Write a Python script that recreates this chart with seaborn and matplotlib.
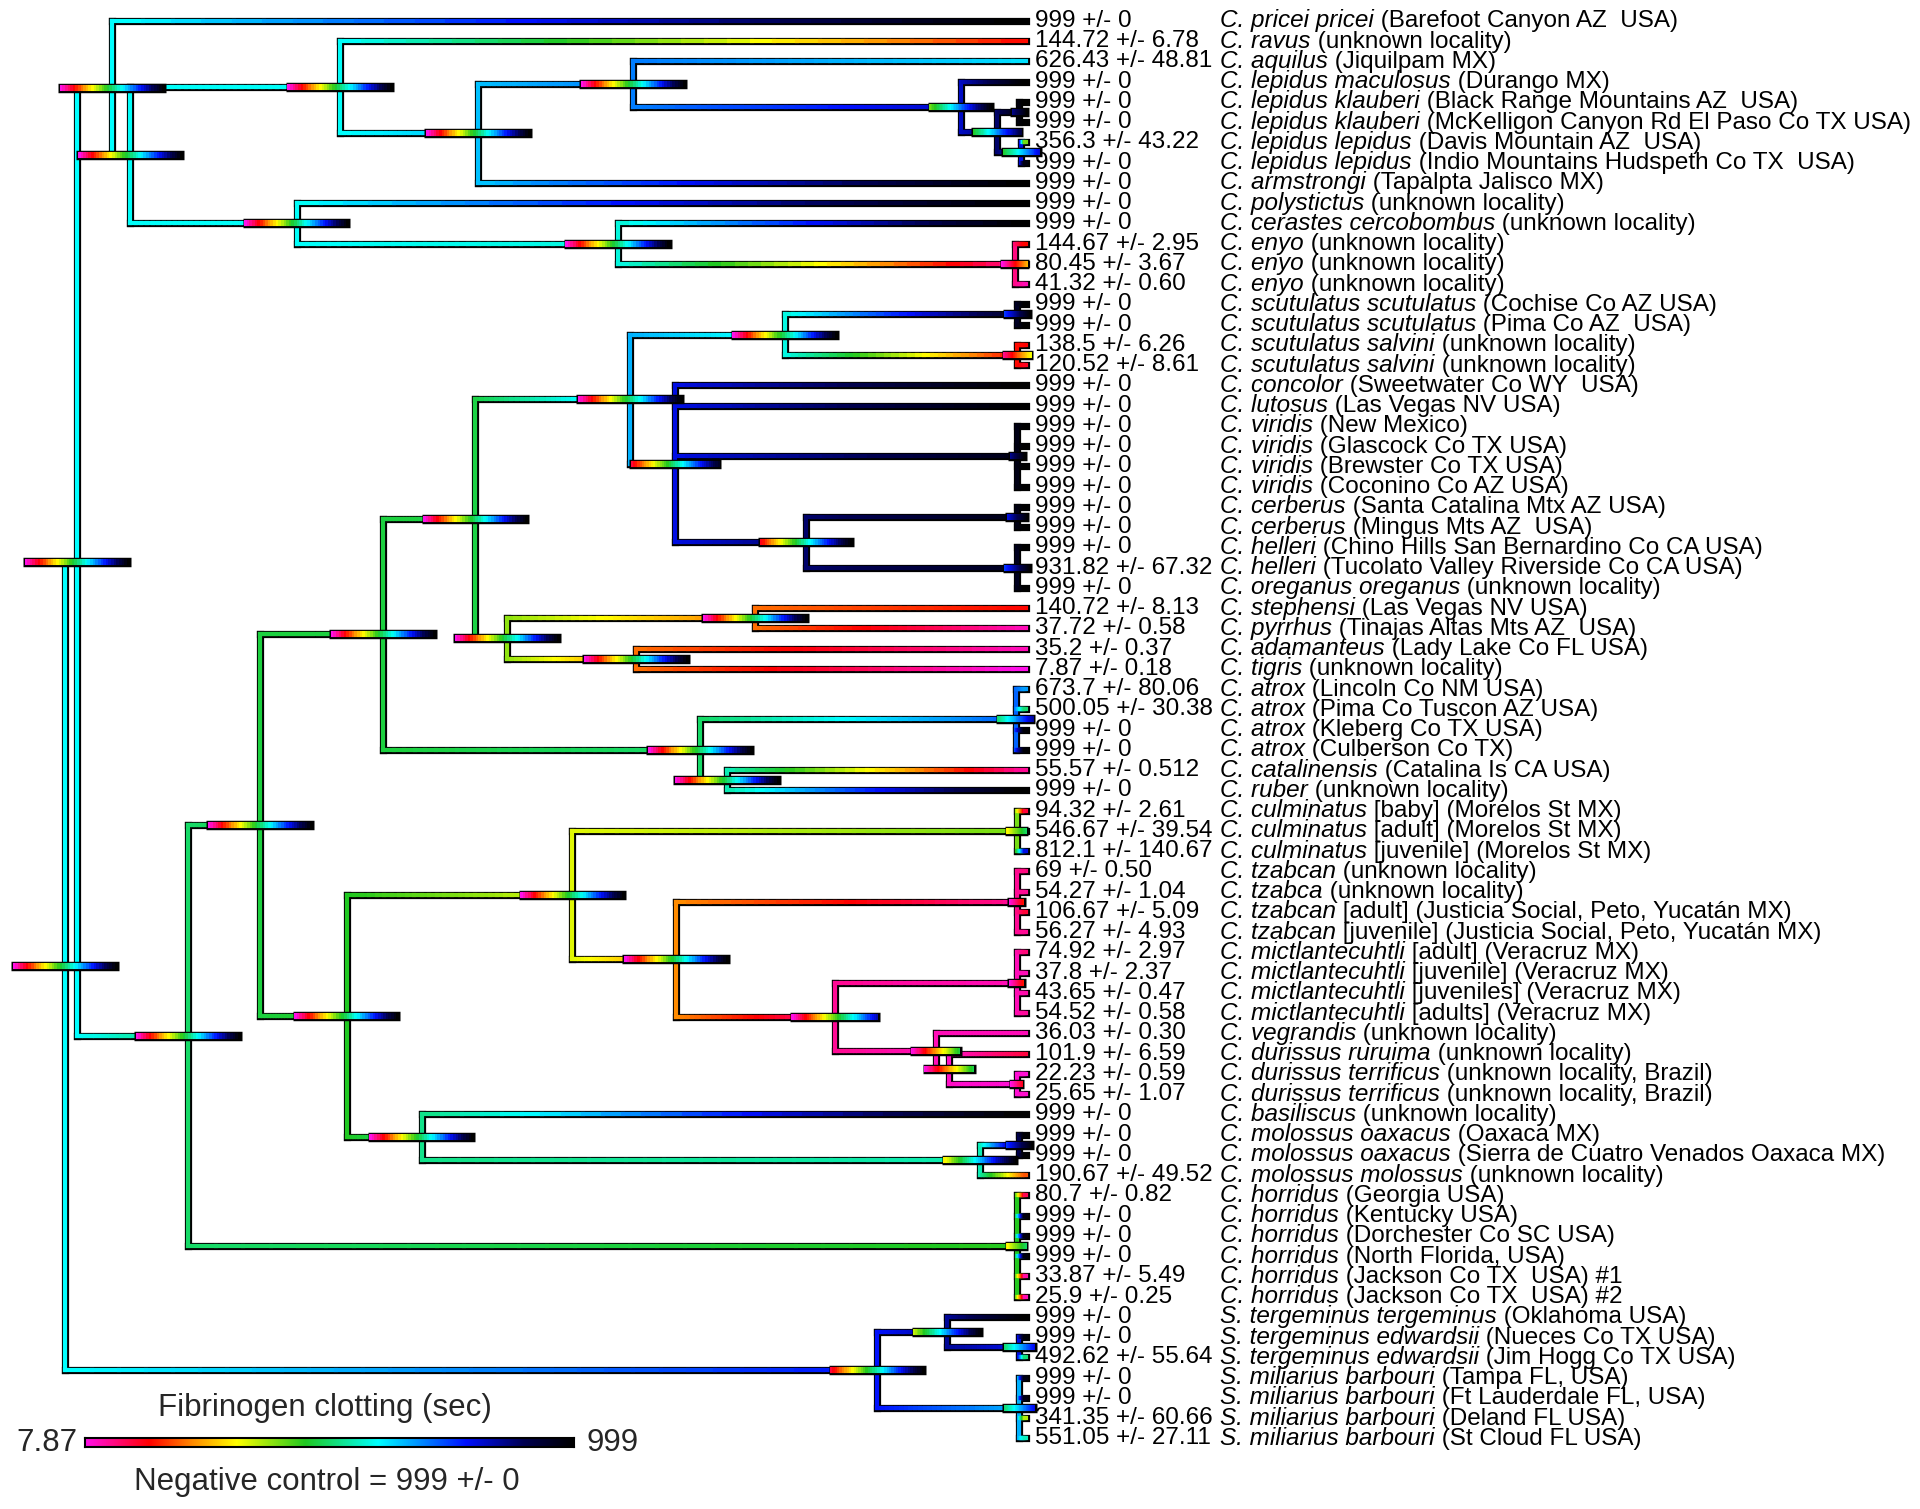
"""
Ancestral state reconstruction of fibrinogen clotting time mapped on the
rattlesnake tree. Branches are coloured by the reconstructed value, node bars
show the 95% interval of each reconstruction.
"""
import numpy as np
import matplotlib
matplotlib.use("Agg")
import matplotlib.pyplot as plt
import seaborn as sns
from matplotlib.collections import LineCollection
from matplotlib.colors import LinearSegmentedColormap, Normalize

# ---- tips, top to bottom ----
species = [
    "C. pricei pricei", "C. ravus", "C. aquilus", "C. lepidus maculosus",
    "C. lepidus klauberi", "C. lepidus klauberi", "C. lepidus lepidus",
    "C. lepidus lepidus", "C. armstrongi", "C. polystictus",
    "C. cerastes cercobombus", "C. enyo", "C. enyo", "C. enyo",
    "C. scutulatus scutulatus", "C. scutulatus scutulatus",
    "C. scutulatus salvini", "C. scutulatus salvini", "C. concolor",
    "C. lutosus", "C. viridis", "C. viridis", "C. viridis", "C. viridis",
    "C. cerberus", "C. cerberus", "C. helleri", "C. helleri",
    "C. oreganus oreganus", "C. stephensi", "C. pyrrhus", "C. adamanteus",
    "C. tigris", "C. atrox", "C. atrox", "C. atrox", "C. atrox",
    "C. catalinensis", "C. ruber", "C. culminatus", "C. culminatus",
    "C. culminatus", "C. tzabcan", "C. tzabca", "C. tzabcan", "C. tzabcan",
    "C. mictlantecuhtli", "C. mictlantecuhtli", "C. mictlantecuhtli",
    "C. mictlantecuhtli", "C. vegrandis", "C. durissus ruruima",
    "C. durissus terrificus", "C. durissus terrificus", "C. basiliscus",
    "C. molossus oaxacus", "C. molossus oaxacus", "C. molossus molossus",
    "C. horridus", "C. horridus", "C. horridus", "C. horridus",
    "C. horridus", "C. horridus", "S. tergeminus tergeminus",
    "S. tergeminus edwardsii", "S. tergeminus edwardsii",
    "S. miliarius barbouri", "S. miliarius barbouri",
    "S. miliarius barbouri", "S. miliarius barbouri",
]
locality = [
    "(Barefoot Canyon AZ  USA)", "(unknown locality)", "(Jiquilpam MX)",
    "(Durango MX)", "(Black Range Mountains AZ  USA)",
    "(McKelligon Canyon Rd El Paso Co TX USA)", "(Davis Mountain AZ  USA)",
    "(Indio Mountains Hudspeth Co TX  USA)", "(Tapalpta Jalisco MX)",
    "(unknown locality)", "(unknown locality)", "(unknown locality)",
    "(unknown locality)", "(unknown locality)", "(Cochise Co AZ USA)",
    "(Pima Co AZ  USA)", "(unknown locality)", "(unknown locality)",
    "(Sweetwater Co WY  USA)", "(Las Vegas NV USA)", "(New Mexico)",
    "(Glascock Co TX USA)", "(Brewster Co TX USA)", "(Coconino Co AZ USA)",
    "(Santa Catalina Mtx AZ USA)", "(Mingus Mts AZ  USA)",
    "(Chino Hills San Bernardino Co CA USA)",
    "(Tucolato Valley Riverside Co CA USA)", "(unknown locality)",
    "(Las Vegas NV USA)", "(Tinajas Altas Mts AZ  USA)",
    "(Lady Lake Co FL USA)", "(unknown locality)", "(Lincoln Co NM USA)",
    "(Pima Co Tuscon AZ USA)", "(Kleberg Co TX USA)", "(Culberson Co TX)",
    "(Catalina Is CA USA)", "(unknown locality)", "[baby] (Morelos St MX)",
    "[adult] (Morelos St MX)", "[juvenile] (Morelos St MX)",
    "(unknown locality)", "(unknown locality)",
    "[adult] (Justicia Social, Peto, Yucatán MX)",
    "[juvenile] (Justicia Social, Peto, Yucatán MX)",
    "[adult] (Veracruz MX)", "[juvenile] (Veracruz MX)",
    "[juveniles] (Veracruz MX)", "[adults] (Veracruz MX)",
    "(unknown locality)", "(unknown locality)",
    "(unknown locality, Brazil)", "(unknown locality, Brazil)",
    "(unknown locality)", "(Oaxaca MX)",
    "(Sierra de Cuatro Venados Oaxaca MX)", "(unknown locality)",
    "(Georgia USA)", "(Kentucky USA)", "(Dorchester Co SC USA)",
    "(North Florida, USA)", "(Jackson Co TX  USA) #1",
    "(Jackson Co TX  USA) #2", "(Oklahoma USA)", "(Nueces Co TX USA)",
    "(Jim Hogg Co TX USA)", "(Tampa FL, USA)", "(Ft Lauderdale FL, USA)",
    "(Deland FL USA)", "(St Cloud FL USA)",
]
clot_mean = [
    "999", "144.72", "626.43", "999", "999", "999", "356.3", "999", "999",
    "999", "999", "144.67", "80.45", "41.32", "999", "999", "138.5",
    "120.52", "999", "999", "999", "999", "999", "999", "999", "999", "999",
    "931.82", "999", "140.72", "37.72", "35.2", "7.87", "673.7", "500.05",
    "999", "999", "55.57", "999", "94.32", "546.67", "812.1", "69", "54.27",
    "106.67", "56.27", "74.92", "37.8", "43.65", "54.52", "36.03", "101.9",
    "22.23", "25.65", "999", "999", "999", "190.67", "80.7", "999", "999",
    "999", "33.87", "25.9", "999", "999", "492.62", "999", "999", "341.35",
    "551.05",
]
clot_sd = [
    "0", "6.78", "48.81", "0", "0", "0", "43.22", "0", "0", "0", "0",
    "2.95", "3.67", "0.60", "0", "0", "6.26", "8.61", "0", "0", "0", "0",
    "0", "0", "0", "0", "0", "67.32", "0", "8.13", "0.58", "0.37", "0.18",
    "80.06", "30.38", "0", "0", "0.512", "0", "2.61", "39.54", "140.67",
    "0.50", "1.04", "5.09", "4.93", "2.97", "2.37", "0.47", "0.58", "0.30",
    "6.59", "0.59", "1.07", "0", "0", "0", "49.52", "0.82", "0", "0", "0",
    "5.49", "0.25", "0", "0", "55.64", "0", "0", "60.66", "27.11",
]

# ---- internal nodes ----
# children are tip indices or node ids; depth: root 0, tips 1
# state: reconstructed clotting time (sec); ci: 95% interval (sec)
FULL = (7.87, 999)
node_id = ["R", "N2", "A", "B", "C", "E", "F", "G", "H", "I", "J", "D", "K",
           "L", "Crot", "P", "R1", "S1", "T", "Sc", "ScA", "ScB", "V", "Vir",
           "W", "Cer", "Hel", "U", "X", "Y", "Z", "Atr", "Z2", "Q", "Q1",
           "Cul", "Q2", "Tza", "Q3", "Mic", "Q4a", "Q4b", "Ter", "Q5", "Mol",
           "Oax", "Hd", "S", "St", "Se", "Sm"]
node_children = [
    ["N2", "S"], ["A", "Crot"], [0, "B"], ["C", "D"], [1, "E"], ["F", 8],
    [2, "G"], [3, "H"], ["I", "J"], [4, 5], [6, 7], [9, "K"], [10, "L"],
    [11, 12, 13], ["P", "Hd"], ["R1", "Q"], ["S1", "Z"], ["T", "U"],
    ["Sc", "V"], ["ScA", "ScB"], [14, 15], [16, 17], [18, 19, "Vir", "W"],
    [20, 21, 22, 23], ["Cer", "Hel"], [24, 25], [26, 27, 28], ["X", "Y"],
    [29, 30], [31, 32], ["Atr", "Z2"], [33, 34, 35, 36], [37, 38],
    ["Q1", "Q5"], ["Cul", "Q2"], [39, 40, 41], ["Tza", "Q3"],
    [42, 43, 44, 45], ["Mic", "Q4a"], [46, 47, 48, 49], [50, "Q4b"],
    [51, "Ter"], [52, 53], [54, "Mol"], ["Oax", 57], [55, 56],
    [58, 59, 60, 61, 62, 63], ["St", "Sm"], [64, "Se"], [65, 66],
    [67, 68, 69, 70],
]
node_depth = [0.0, 0.0125, 0.049, 0.068, 0.286, 0.430, 0.591, 0.932, 0.970,
              0.993, 0.995, 0.241, 0.575, 0.988, 0.128, 0.203, 0.331, 0.427,
              0.588, 0.749, 0.991, 0.991, 0.635, 0.991, 0.771, 0.991, 0.991,
              0.460, 0.718, 0.594, 0.661, 0.989, 0.689, 0.293, 0.528, 0.990,
              0.636, 0.990, 0.801, 0.990, 0.906, 0.920, 0.990, 0.371, 0.952,
              0.993, 0.990, 0.845, 0.918, 0.993, 0.993]
node_state = [602, 602, 602, 600, 600, 650, 700, 820, 880, 980, 800, 600,
              580, 67, 503, 474, 474, 480, 660, 583, 950, 146, 800, 970, 880,
              970, 960, 384, 206, 206, 503, 720, 550, 454, 335, 400, 226, 57,
              57, 38, 38, 28, 22, 523, 550, 900, 450, 780, 850, 800, 660]
node_ci = [FULL, FULL, FULL, FULL, FULL, FULL, FULL, (404, 999), (454, 920),
           (850, 999), (454, 810), FULL, FULL, (7.87, 256), FULL, FULL, FULL,
           FULL, FULL, FULL, (751, 999), (57, 325), (107, 950), (850, 999),
           (127, 999), (800, 999), (751, 999), FULL, FULL, FULL, FULL,
           (503, 850), FULL, FULL, FULL, (305, 503), FULL, (7.87, 157),
           (7.87, 830), (7.87, 157), (7.87, 474), (7.87, 484), (7.87, 127),
           FULL, (305, 999), (751, 999), (305, 503), (107, 999), (355, 999),
           (503, 800), (503, 800)]

# ---- style ----
sns.set_theme(style="white")
plt.rcParams["font.family"] = ["Liberation Sans", "DejaVu Sans"]

cmap = LinearSegmentedColormap.from_list("clot", [
    (0.00, "#ff10e8"), (0.13, "#ff0000"), (0.22, "#ff8c00"),
    (0.31, "#ffff00"), (0.45, "#20c820"), (0.60, "#00ffff"),
    (0.78, "#0010ff"), (0.90, "#000050"), (1.00, "#000000")])
norm = Normalize(7.87, 999)

children = dict(zip(node_id, node_children))
depth = dict(zip(node_id, node_depth))
state = dict(zip(node_id, node_state))
ci = dict(zip(node_id, node_ci))
tip_val = [float(v) for v in clot_mean]

ypos = {}


def place(n):
    if isinstance(n, int):
        return float(n)
    ys = [place(c) for c in children[n]]
    ypos[n] = (ys[0] + ys[-1]) / 2
    return ypos[n]


place("R")


def coord(n):
    if isinstance(n, int):
        return 1.0, float(n), tip_val[n]
    return depth[n], ypos[n], state[n]


fig = plt.figure(figsize=(19.2, 15.09), dpi=100)
ax = fig.add_axes([0, 0, 1, 1])
ax.set_xlim(-0.0676, 1.930)
ax.set_ylim(73.49, -1.027)
ax.set_axis_off()

out_segs, col_segs, col_vals = [], [], []
for n in node_id:
    px, py, pv = coord(n)
    ys = [coord(c)[1] for c in children[n]]
    out_segs.append([(px, min(ys)), (px, max(ys))])
    col_segs.append([(px, min(ys)), (px, max(ys))])
    col_vals.append(pv)
    for c in children[n]:
        cx, cy, cv = coord(c)
        out_segs.append([(px, cy), (cx, cy)])
        xs = np.linspace(px, cx, 31)
        vs = np.linspace(pv, cv, 30)
        for k in range(30):
            col_segs.append([(xs[k], cy), (xs[k + 1], cy)])
            col_vals.append(vs[k])

ax.add_collection(LineCollection(out_segs, colors="black", linewidths=5.2,
                                 capstyle="projecting", zorder=1))
ax.add_collection(LineCollection(col_segs, colors=cmap(norm(col_vals)),
                                 linewidths=3.0, capstyle="projecting",
                                 zorder=2))

# node interval bars
bar_scale = 0.109 / (999 - 7.87)
pad = 1.5 / 961
bar_out, bar_segs, bar_vals = [], [], []
for n in node_id:
    lo, hi = ci[n]
    w = (hi - lo) * bar_scale
    x0 = depth[n] - w / 2
    y = ypos[n]
    bar_out.append([(x0 - pad, y), (x0 + w + pad, y)])
    xs = np.linspace(x0, x0 + w, 41)
    vs = np.linspace(lo, hi, 40)
    for k in range(40):
        bar_segs.append([(xs[k], y), (xs[k + 1], y)])
        bar_vals.append(vs[k])
ax.add_collection(LineCollection(bar_out, colors="black", linewidths=6.8,
                                 capstyle="butt", zorder=3))
ax.add_collection(LineCollection(bar_segs, colors=cmap(norm(bar_vals)),
                                 linewidths=4.4, capstyle="butt", zorder=4))

# tip labels
fs = 17.5
for i in range(len(species)):
    ax.text(1.0094, i, f"{clot_mean[i]} +/- {clot_sd[i]}", fontsize=fs,
            ha="left", va="center", color="black")
    t = ax.text(1.2019, i, species[i], fontsize=fs, style="italic",
                ha="left", va="center", color="black")
    ax.annotate(" " + locality[i], xy=(1, 0), xycoords=t, fontsize=fs,
                ha="left", va="bottom", color="black")

# colour legend
cax = fig.add_axes([85 / 1920, (1509 - 1447) / 1509, 489 / 1920, 9 / 1509])
cax.imshow(np.linspace(0, 1, 256)[None, :], cmap=cmap, aspect="auto")
cax.set_xticks([])
cax.set_yticks([])
for sp in cax.spines.values():
    sp.set_visible(True)
    sp.set_color("black")
    sp.set_linewidth(1.5)

lfs = 22.5
fig.text(325 / 1920, 1 - 1408 / 1509, "Fibrinogen clotting (sec)",
         fontsize=lfs, ha="center", va="center")
fig.text(77 / 1920, 1 - 1443 / 1509, "7.87", fontsize=lfs, ha="right",
         va="center")
fig.text(587 / 1920, 1 - 1443 / 1509, "999", fontsize=lfs, ha="left",
         va="center")
fig.text(327 / 1920, 1 - 1482 / 1509, "Negative control = 999 +/- 0",
         fontsize=lfs, ha="center", va="center")

fig.savefig("out.png", dpi=100, facecolor="white")
